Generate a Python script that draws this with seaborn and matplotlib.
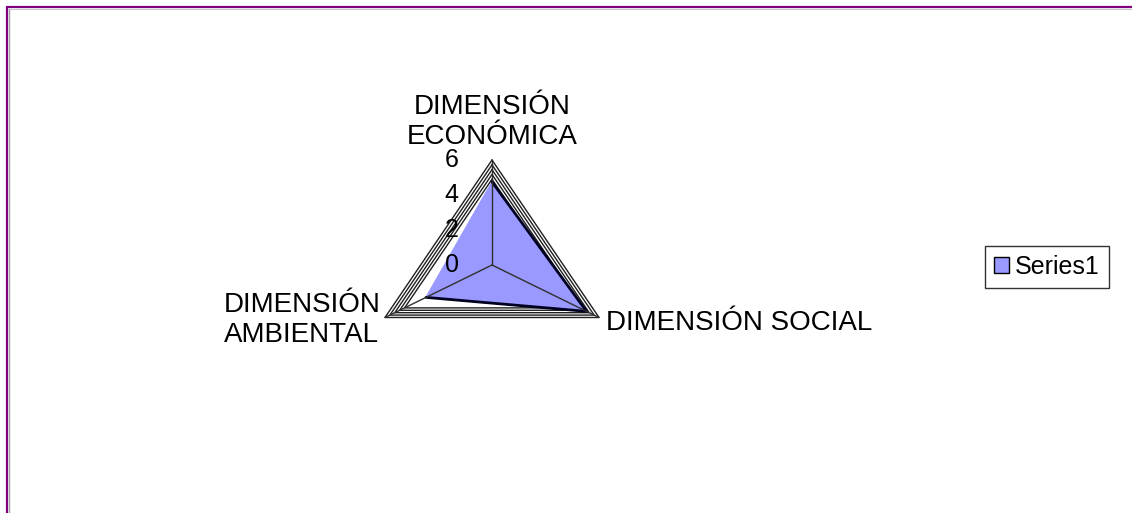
import numpy as np
import matplotlib
matplotlib.use("Agg")
import matplotlib.pyplot as plt
from matplotlib.lines import Line2D
from matplotlib.patches import Patch
import seaborn as sns

# data
categories = ["DIMENSIÓN\nECONÓMICA", "DIMENSIÓN SOCIAL", "DIMENSIÓN\nAMBIENTAL"]
values = [4.75, 5.3, 3.7]
ticks = [0, 2, 4, 6]
series_name = "Series1"

sns.set_theme(style="white")
plt.rcParams["font.family"] = ["Liberation Sans", "DejaVu Sans"]
plt.rcParams["text.color"] = "black"

FILL = "#9999FF"
W, H = 1132, 513
fig = plt.figure(figsize=(W / 100, H / 100), dpi=100)
ax = fig.add_axes([0, 0, 1, 1])
ax.set_axis_off()

# pixel layout of the plot: centre and scale (px per unit)
cx, cy, sx, sy = 492, 265, 20.6, 17.5
ax.set_xlim(-cx / sx, (W - cx) / sx)
ax.set_ylim(-(H - cy) / sy, cy / sy)

angles = np.deg2rad([90, -30, 210])
rmax = max(ticks)


def xy(r):
    r = np.asarray(r, dtype=float)
    return r * np.cos(angles), r * np.sin(angles)


# stacked frame rings near the outer edge
for lvl in np.linspace(4.9, rmax, 5):
    gx, gy = xy([lvl] * 3)
    ax.plot(np.append(gx, gx[0]), np.append(gy, gy[0]), color="#202020", lw=1.0, zorder=1)

# data polygon
dx, dy = xy(values)
ax.fill(dx, dy, color=FILL, zorder=2)
sns.lineplot(x=np.append(dx, dx[0]), y=np.append(dy, dy[0]), sort=False,
             color="#000020", lw=2.0, ax=ax, zorder=3)

# spokes
ox, oy = xy([rmax] * 3)
for x1, y1 in zip(ox, oy):
    ax.plot([0, x1], [0, y1], color="#303030", lw=1.0, zorder=4)

# tick labels along the top axis
for t in ticks:
    ax.annotate(str(t), (0, t), xytext=(-29, 0), textcoords="offset points",
                ha="center", va="center", fontsize=18, zorder=5)

# category labels
ax.annotate(categories[0], (ox[0], oy[0]), xytext=(0, 7), textcoords="offset points",
            ha="center", va="bottom", fontsize=20, linespacing=1.2)
ax.annotate(categories[1], (ox[1], oy[1]), xytext=(5, -4), textcoords="offset points",
            ha="left", va="center", fontsize=20)
ax.annotate(categories[2], (ox[2], oy[2]), xytext=(-3, -2), textcoords="offset points",
            ha="right", va="center", fontsize=20, multialignment="left", linespacing=1.2)

# legend
leg = fig.legend(handles=[Patch(facecolor=FILL, edgecolor="black", label=series_name)],
                 loc="center", bbox_to_anchor=(1047 / W, 1 - 267 / H), fontsize=18,
                 frameon=True, fancybox=False, handlelength=0.6, handleheight=0.6,
                 handletextpad=0.25, borderpad=0.35, borderaxespad=0)
leg.get_frame().set_edgecolor("black")
leg.get_frame().set_linewidth(1.0)

# outer border of the chart area
fig.add_artist(Line2D([6.5 / W, 1], [1 - 6.5 / H] * 2, color="#800080", lw=1.6))
fig.add_artist(Line2D([6.5 / W] * 2, [0, 1 - 6.5 / H], color="#800080", lw=1.6))
fig.add_artist(Line2D([9 / W, 1], [1 - 9 / H] * 2, color="#c8c8c8", lw=0.8))
fig.add_artist(Line2D([9 / W] * 2, [0, 1 - 9 / H], color="#a0a0a0", lw=1.0))

fig.savefig("out.png", dpi=100, facecolor="white")
